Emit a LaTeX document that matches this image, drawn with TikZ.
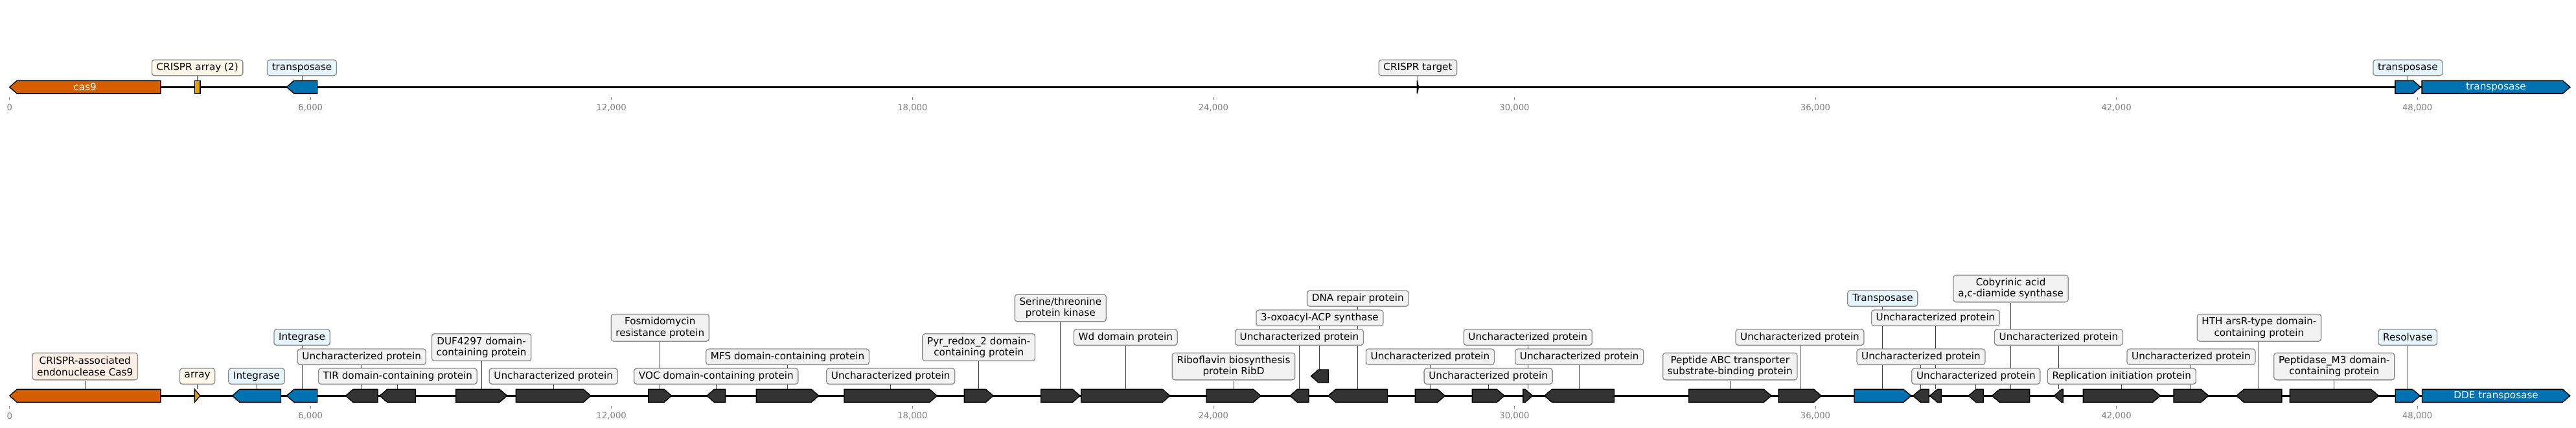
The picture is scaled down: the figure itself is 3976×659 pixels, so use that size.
\documentclass[tikz,border=0pt]{standalone}
\usepackage{fontspec}
\setmainfont{DejaVu Sans}
\usetikzlibrary{calc}
\pgfdeclarelayer{background}
\pgfsetlayers{background,main}
\definecolor{cvermil}{HTML}{D55E00}
\definecolor{camber}{HTML}{E69F00}
\definecolor{cblue}{HTML}{0072B2}
\definecolor{cdark}{HTML}{333333}
\definecolor{fgray}{HTML}{F2F2F2}
\definecolor{fblue}{HTML}{E6F4FB}
\definecolor{fyellow}{HTML}{FFF8E8}
\definecolor{fpeach}{HTML}{FDEFE6}
\definecolor{bordergray}{HTML}{8C8C8C}
\definecolor{tickgray}{HTML}{808080}

% #1 name, #2 x start, #3 x end, #4 direction (1 right, -1 left), #5 fill, #6 y middle
\newcommand\genearrow[6]{%
  \pgfmathsetmacro\gl{#3-#2}%
  \pgfmathsetmacro\gh{min(11.5,\gl)}%
  \ifnum#4>0
    \draw[genestyle, fill=#5] (#2,#6-10) -- ({#3-\gh},#6-10) -- (#3,#6) -- ({#3-\gh},#6+10) -- (#2,#6+10) -- cycle;
  \else
    \draw[genestyle, fill=#5] (#3,#6-10) -- ({#2+\gh},#6-10) -- (#2,#6) -- ({#2+\gh},#6+10) -- (#3,#6+10) -- cycle;
  \fi
  \coordinate (#1) at ({(#2+#3)/2},#6-10);%
}
% #1 label name, #2 gene coordinate, #3 y centre, #4 style, #5 text
\newcommand\genelabel[5]{%
  \node[#4] (#1) at (#2 |- 0,#3) {#5};
  \begin{pgfonlayer}{background}\draw[conn] (#1.south) -- (#2);\end{pgfonlayer}%
}

\begin{document}
\begin{tikzpicture}[x=0.5pt, y=-0.5pt,
  lbl/.style={draw=bordergray, line width=0.65pt, rounded corners=2pt, inner xsep=3.6pt, inner ysep=0pt,
    minimum height=12.15pt, align=center, font=\fontsize{7.6}{8.7}\selectfont, text=black},
  lbltwo/.style={lbl, minimum height=20.85pt},
  conn/.style={draw=black!75, line width=0.5pt},
  genestyle/.style={draw=black, line width=0.7pt, line join=miter},
  inlbl/.style={text=white, font=\fontsize{7.6}{8.7}\selectfont, inner sep=0pt},
  trackline/.style={draw=black, line width=1.3pt},
  tickmark/.style={draw=tickgray, line width=0.5pt},
  ticklbl/.style={text=tickgray, font=\fontsize{6.6}{8}\selectfont, inner sep=0pt}]
\useasboundingbox (0,0) rectangle (3976,659);
\begin{pgfonlayer}{background}
  \fill[white] (0,0) rectangle (3976,659);
  \coordinate (ts) at (14.7,134.3);
  \coordinate (te) at (3966.9,134.3);
  \coordinate (bs) at (14.7,610.3);
  \coordinate (be) at (3966.7,610.3);
  \draw[trackline] (ts) -- (te);
  \draw[trackline] (bs) -- (be);
\end{pgfonlayer}

% ticks
\foreach \k/\t in {0/0, 1/{6,000}, 2/{12,000}, 3/{18,000}, 4/{24,000}, 5/{30,000}, 6/{36,000}, 7/{42,000}, 8/{48,000}}{
  \pgfmathsetmacro\tx{14.7+\k*464.55}
  \draw[tickmark] (\tx,149.5) -- (\tx,154);
  \node[ticklbl] (tt\k) at (\tx,166) {\t};
  \draw[tickmark] (\tx,625.7) -- (\tx,630.2);
  \node[ticklbl] (bt\k) at (\tx,641.7) {\t};
}

% ---------------- top track ----------------
\genearrow{tcas}{14.7}{247.8}{-1}{cvermil}{134.3}
\node[inlbl] (tcasname) at (131.25,134.3) {cas9};
\draw[genestyle, fill=camber] (300.4,124.3) rectangle (308.9,144.3);
\coordinate (tarr) at (304.65,124.3);
\genearrow{ttra}{442.4}{489.7}{-1}{cblue}{134.3}
\genearrow{ttgt}{2187.4}{2189.4}{1}{cdark}{134.3}
\genearrow{ttrb}{3696.8}{3736}{1}{cblue}{134.3}
\genearrow{ttrc}{3738}{3966.9}{1}{cblue}{134.3}
\node[inlbl] (ttrcname) at (3852.45,134.3) {transposase};

\genelabel{ltarr}{tarr}{104.5}{lbl,fill=fyellow}{CRISPR array (2)}
\genelabel{lttra}{ttra}{104.5}{lbl,fill=fblue}{transposase}
\genelabel{lttgt}{ttgt}{104.5}{lbl,fill=fgray}{CRISPR target}
\genelabel{lttrb}{ttrb}{104.5}{lbl,fill=fblue}{transposase}

% ---------------- bottom track ----------------
\genearrow{b1}{14.7}{247.8}{-1}{cvermil}{610.3}
\genearrow{b2}{300.4}{308.9}{1}{camber}{610.3}
\genearrow{b3}{358.5}{433.5}{-1}{cblue}{610.3}
\genearrow{b4}{442.4}{489.7}{-1}{cblue}{610.3}
\genearrow{b5}{533.5}{583}{-1}{cdark}{610.3}
\genearrow{b6}{586.2}{641.5}{-1}{cdark}{610.3}
\genearrow{b7}{703.6}{782.6}{1}{cdark}{610.3}
\genearrow{b8}{796.4}{912}{1}{cdark}{610.3}
\genearrow{b9}{1000.9}{1036.6}{1}{cdark}{610.3}
\genearrow{b10}{1091}{1119.6}{-1}{cdark}{610.3}
\genearrow{b11}{1167.4}{1263.8}{1}{cdark}{610.3}
\genearrow{b12}{1303}{1446.4}{1}{cdark}{610.3}
\genearrow{b13}{1488.4}{1533}{1}{cdark}{610.3}
\genearrow{b14}{1606.7}{1667}{1}{cdark}{610.3}
\genearrow{b15}{1668.75}{1805.8}{1}{cdark}{610.3}
\genearrow{b16}{1862}{1946}{1}{cdark}{610.3}
\genearrow{b17}{1991}{2020}{-1}{cdark}{610.3}
\genearrow{b18}{2023.5}{2050.4}{-1}{cdark}{580}
\genearrow{b19}{2050}{2141.5}{-1}{cdark}{610.3}
\genearrow{b20}{2184.4}{2230.4}{1}{cdark}{610.3}
\genearrow{b21}{2272.3}{2321.9}{1}{cdark}{610.3}
\genearrow{b22}{2350.9}{2365.6}{1}{cdark}{610.3}
\genearrow{b23}{2383.9}{2491.5}{-1}{cdark}{610.3}
\genearrow{b24}{2606.7}{2733.9}{1}{cdark}{610.3}
\genearrow{b25}{2745}{2811}{1}{cdark}{610.3}
\genearrow{b26}{2862}{2949.6}{1}{cblue}{610.3}
\genearrow{b27}{2952.7}{2977.2}{-1}{cdark}{610.3}
\genearrow{b28}{2978.6}{2996.4}{-1}{cdark}{610.3}
\genearrow{b29}{3038.4}{3061.2}{-1}{cdark}{610.3}
\genearrow{b30}{3074.6}{3132.6}{-1}{cdark}{610.3}
\genearrow{b31}{3170.5}{3184.4}{-1}{cdark}{610.3}
\genearrow{b32}{3215.2}{3334.3}{1}{cdark}{610.3}
\genearrow{b33}{3355.1}{3408.8}{1}{cdark}{610.3}
\genearrow{b34}{3451.9}{3521.8}{-1}{cdark}{610.3}
\genearrow{b35}{3534.3}{3671.3}{1}{cdark}{610.3}
\genearrow{b36}{3697.2}{3735.2}{1}{cblue}{610.3}
\genearrow{b37}{3738.4}{3966.7}{1}{cblue}{610.3}
\node[inlbl] (b37name) at (3852.55,610.3) {DDE transposase};

\genelabel{l1}{b1}{565}{lbltwo,fill=fpeach}{CRISPR-associated\\endonuclease Cas9}
\genelabel{l2}{b2}{580.2}{lbl,fill=fyellow}{array}
\genelabel{l3}{b3}{580.2}{lbl,fill=fblue}{Integrase}
\genelabel{l4}{b4}{520.2}{lbl,fill=fblue}{Integrase}
\genelabel{l5}{b5}{550.2}{lbl,fill=fgray}{Uncharacterized protein}
\genelabel{l6}{b6}{580.2}{lbl,fill=fgray}{TIR domain-containing protein}
\genelabel{l7}{b7}{535.5}{lbltwo,fill=fgray}{DUF4297 domain-\\containing protein}
\genelabel{l8}{b8}{580.2}{lbl,fill=fgray}{Uncharacterized protein}
\genelabel{l9}{b9}{505.3}{lbltwo,fill=fgray}{Fosmidomycin\\resistance protein}
\genelabel{l10}{b10}{580.2}{lbl,fill=fgray}{VOC domain-containing protein}
\genelabel{l11}{b11}{550.2}{lbl,fill=fgray}{MFS domain-containing protein}
\genelabel{l12}{b12}{580.2}{lbl,fill=fgray}{Uncharacterized protein}
\genelabel{l13}{b13}{535.5}{lbltwo,fill=fgray}{Pyr\_redox\_2 domain-\\containing protein}
\genelabel{l14}{b14}{475}{lbltwo,fill=fgray}{Serine/threonine\\protein kinase}
\genelabel{l15}{b15}{520.2}{lbl,fill=fgray}{Wd domain protein}
\genelabel{l16}{b16}{565}{lbltwo,fill=fgray}{Riboflavin biosynthesis\\protein RibD}
\genelabel{l17}{b17}{520.2}{lbl,fill=fgray}{Uncharacterized protein}
\genelabel{l18}{b18}{490.2}{lbl,fill=fgray}{3-oxoacyl-ACP synthase}
\genelabel{l19}{b19}{460.2}{lbl,fill=fgray}{DNA repair protein}
\genelabel{l20}{b20}{550.2}{lbl,fill=fgray}{Uncharacterized protein}
\genelabel{l21}{b21}{580.2}{lbl,fill=fgray}{Uncharacterized protein}
\genelabel{l22}{b22}{520.2}{lbl,fill=fgray}{Uncharacterized protein}
\genelabel{l23}{b23}{550.2}{lbl,fill=fgray}{Uncharacterized protein}
\genelabel{l24}{b24}{565}{lbltwo,fill=fgray}{Peptide ABC transporter\\substrate-binding protein}
\genelabel{l25}{b25}{520.2}{lbl,fill=fgray}{Uncharacterized protein}
\genelabel{l26}{b26}{460.2}{lbl,fill=fblue}{Transposase}
\genelabel{l27}{b27}{550.2}{lbl,fill=fgray}{Uncharacterized protein}
\genelabel{l28}{b28}{490.2}{lbl,fill=fgray}{Uncharacterized protein}
\genelabel{l29}{b29}{580.2}{lbl,fill=fgray}{Uncharacterized protein}
\genelabel{l30}{b30}{445}{lbltwo,fill=fgray}{Cobyrinic acid\\a,c-diamide synthase}
\genelabel{l31}{b31}{520.2}{lbl,fill=fgray}{Uncharacterized protein}
\genelabel{l32}{b32}{580.2}{lbl,fill=fgray}{Replication initiation protein}
\genelabel{l33}{b33}{550.2}{lbl,fill=fgray}{Uncharacterized protein}
\genelabel{l34}{b34}{505.3}{lbltwo,fill=fgray}{HTH arsR-type domain-\\containing protein}
\genelabel{l35}{b35}{565}{lbltwo,fill=fgray}{Peptidase\_M3 domain-\\containing protein}
\genelabel{l36}{b36}{520.2}{lbl,fill=fblue}{Resolvase}
\end{tikzpicture}
\end{document}
